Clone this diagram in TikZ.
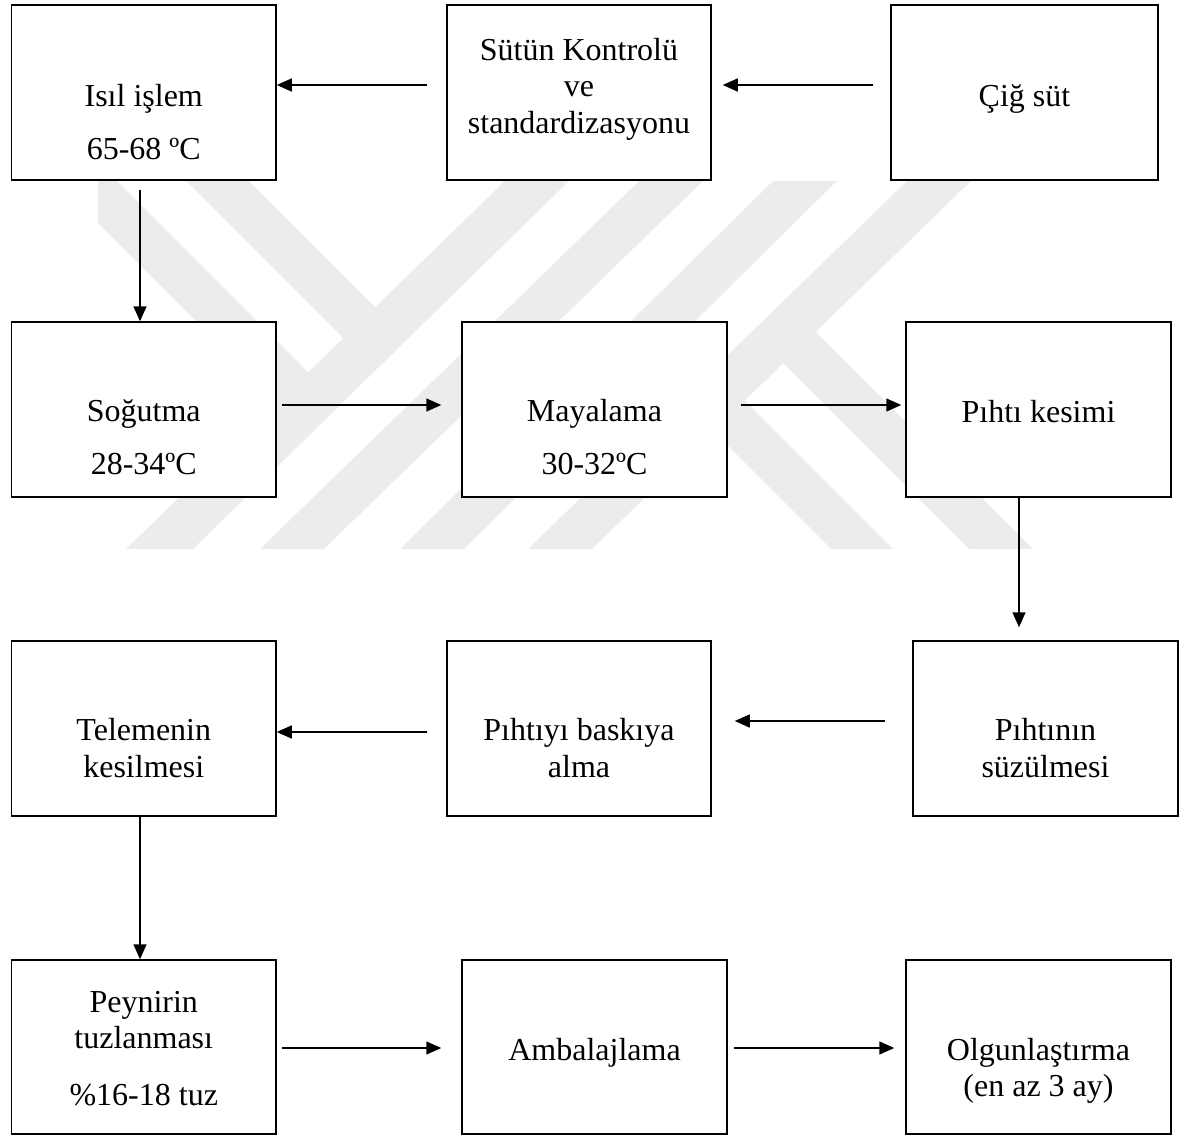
\documentclass[tikz,border=0pt]{standalone}
\usepackage{fontspec}
\setmainfont{Liberation Serif}
\usetikzlibrary{arrows.meta}
\definecolor{wm}{RGB}{236,236,236}
\begin{document}
\begin{tikzpicture}[x=1pt,y=-1pt,
  box/.style={draw, line width=1.5pt, fill=white, inner sep=0pt, minimum width=264.5pt, minimum height=175pt},
  txt/.style={anchor=base, inner sep=0pt, font=\fontsize{32}{38}\selectfont},
  arr/.style={line width=1.5pt, -{Triangle[length=15pt,width=13pt]}},
  wmk/.style={fill=wm, draw=none}]
\useasboundingbox (0,0) rectangle (1181,1135);
% watermark
\begin{scope}
\clip (98,181) rectangle (1075,549);
\fill[wmk] (505,181) -- (569,181) -- (193,549) -- (126,549) -- cycle;
\fill[wmk] (639,181) -- (703,181) -- (324,549) -- (260,549) -- cycle;
\fill[wmk] (773,181) -- (837,181) -- (464,549) -- (400,549) -- cycle;
\fill[wmk] (907,181) -- (971,181) -- (592,549) -- (528,549) -- cycle;
\fill[wmk] (186,181) -- (249,181) -- (384,316) -- (352.5,347.5) -- cycle;
\fill[wmk] (56,181) -- (117,181) -- (318,382) -- (287.5,412.5) -- cycle;
\fill[wmk] (696,414) -- (727,383) -- (893,549) -- (831,549) -- cycle;
\fill[wmk] (765,345) -- (797,313) -- (1033,549) -- (969,549) -- cycle;
\end{scope}
% boxes
\node[box] (A) at (143.75,92.5) {};
\node[box, minimum width=264pt] (B) at (579,92.5) {};
\node[box, minimum width=267pt] (C) at (1024.5,92.5) {};
\node[box] (D) at (143.75,409.5) {};
\node[box, minimum width=265pt] (E) at (594.5,409.5) {};
\node[box, minimum width=265pt] (F) at (1038.5,409.5) {};
\node[box] (G) at (143.75,728.5) {};
\node[box, minimum width=264pt] (H) at (579,728.5) {};
\node[box, minimum width=265pt] (I) at (1045.5,728.5) {};
\node[box, minimum height=174pt] (J) at (143.75,1047) {};
\node[box, minimum width=265pt, minimum height=174pt] (K) at (594.5,1047) {};
\node[box, minimum width=265pt, minimum height=174pt] (L) at (1038.5,1047) {};
% texts
\node[txt] (tA1) at (143.75,106) {Isıl işlem};
\node[txt] (tA2) at (143.75,159) {65-68 ºC};
\node[txt] (tB1) at (579,60) {Sütün Kontrolü};
\node[txt] (tB2) at (579,96.8) {ve};
\node[txt] (tB3) at (579,133.6) {standardizasyonu};
\node[txt] (tC) at (1024.5,106) {Çiğ süt};
\node[txt] (tD1) at (143.75,421) {Soğutma};
\node[txt] (tD2) at (143.75,474) {28-34ºC};
\node[txt] (tE1) at (594.5,421) {Mayalama};
\node[txt] (tE2) at (594.5,474) {30-32ºC};
\node[txt] (tF) at (1038.5,422) {Pıhtı kesimi};
\node[txt] (tG1) at (143.75,740.5) {Telemenin};
\node[txt] (tG2) at (143.75,777.3) {kesilmesi};
\node[txt] (tH1) at (579,740.5) {Pıhtıyı baskıya};
\node[txt] (tH2) at (579,777.3) {alma};
\node[txt] (tI1) at (1045.5,740.5) {Pıhtının};
\node[txt] (tI2) at (1045.5,777.3) {süzülmesi};
\node[txt] (tJ1) at (143.75,1012) {Peynirin};
\node[txt] (tJ2) at (143.75,1048.8) {tuzlanması};
\node[txt] (tJ3) at (143.75,1105) {\%16-18 tuz};
\node[txt] (tK) at (594.5,1060) {Ambalajlama};
\node[txt] (tL1) at (1038.5,1060) {Olgunlaştırma};
\node[txt] (tL2) at (1038.5,1096.8) {(en az 3 ay)};
% arrows
\draw[arr, shorten <=17pt, shorten >=11pt] ([yshift=7.5pt]C.west) -- ([yshift=7.5pt]B.east);
\draw[arr, shorten <=19pt] ([yshift=7.5pt]B.west) -- ([yshift=7.5pt]A.east);
\draw[arr, shorten <=9pt] ([xshift=-3.75pt]A.south) -- ([xshift=-3.75pt]D.north);
\draw[arr, shorten <=5pt, shorten >=20pt] ([yshift=4.5pt]D.east) -- ([yshift=4.5pt]E.west);
\draw[arr, shorten <=13pt, shorten >=4pt] ([yshift=4.5pt]E.east) -- ([yshift=4.5pt]F.west);
\draw[arr, shorten >=13pt] ([xshift=-19.5pt]F.south) -- ([xshift=-26.5pt]I.north);
\draw[arr, shorten <=27pt, shorten >=23pt] ([yshift=7.5pt]I.west) -- ([yshift=7.5pt]H.east);
\draw[arr, shorten <=19pt] ([yshift=-3.5pt]H.west) -- ([yshift=-3.5pt]G.east);
\draw[arr] ([xshift=-3.75pt]G.south) -- ([xshift=-3.75pt]J.north);
\draw[arr, shorten <=5pt, shorten >=20pt] ([yshift=-1pt]J.east) -- ([yshift=-1pt]K.west);
\draw[arr, shorten <=6pt, shorten >=11pt] ([yshift=-1pt]K.east) -- ([yshift=-1pt]L.west);
\end{tikzpicture}
\end{document}
